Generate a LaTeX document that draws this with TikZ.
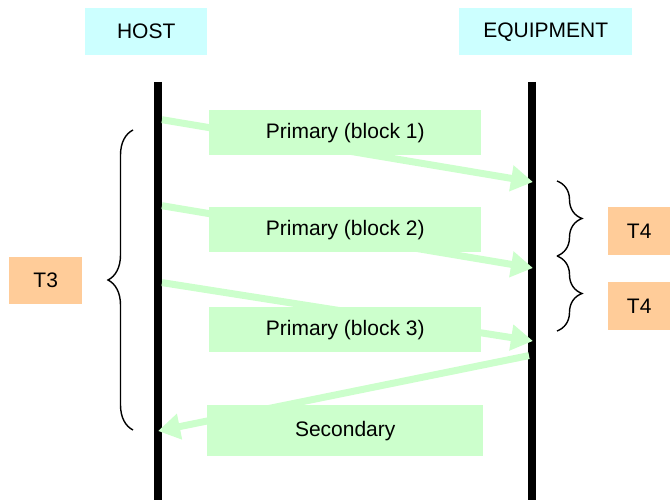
\documentclass[tikz,border=0pt]{standalone}
\usepackage{fontspec}
\setmainfont{Liberation Sans}
\usetikzlibrary{arrows.meta,decorations.pathreplacing}
\definecolor{msggreen}{HTML}{CCFFCC}
\definecolor{headcyan}{HTML}{CCFFFF}
\definecolor{timeorange}{HTML}{FFCC99}
\begin{document}
\begin{tikzpicture}[x=1pt,y=-1pt,
  every node/.style={font=\fontsize{21}{25}\selectfont, inner sep=0pt, anchor=north west},
  headbox/.style={fill=headcyan},
  msgbox/.style={fill=msggreen},
  timebox/.style={fill=timeorange},
  lifeline/.style={line width=8pt},
  msgarrow/.style={draw=msggreen, line width=7pt, -{Triangle[length=22pt,width=25pt]}},
  bracestyle/.style={line width=1.4pt, decorate, decoration={brace, amplitude=25pt}}]
\useasboundingbox (0,0) rectangle (670,500);
% headers
\node[headbox, minimum width=122pt, minimum height=47pt] (host) at (85,8) {HOST};
\node[headbox, minimum width=173pt, minimum height=47pt] (equip) at (459,8) {EQUIPMENT};
% lifelines
\coordinate (ht) at (158,82); \coordinate (hb) at (158,500);
\coordinate (et) at (532,82); \coordinate (eb) at (532,500);
\draw[lifeline] (ht) -- (hb);
\draw[lifeline] (et) -- (eb);
% message endpoints
\coordinate (s1) at (162,119.7); \coordinate (e1) at (533,182);
\coordinate (s2) at (162,205.7); \coordinate (e2) at (533,268);
\coordinate (s3) at (162,282.6); \coordinate (e3) at (533,341);
\coordinate (s4) at (529,355.6); \coordinate (e4) at (158,431);
\draw[msgarrow] (s1) -- (e1);
\draw[msgarrow] (s2) -- (e2);
\draw[msgarrow] (s3) -- (e3);
\draw[msgarrow] (s4) -- (e4);
% message boxes
\node[msgbox, minimum width=272pt, minimum height=45pt] (p1) at (209,110) {Primary (block 1)};
\node[msgbox, minimum width=272pt, minimum height=45pt] (p2) at (209,207) {Primary (block 2)};
\node[msgbox, minimum width=272pt, minimum height=45pt] (p3) at (209,307) {Primary (block 3)};
\node[msgbox, minimum width=276pt, minimum height=51pt] (sec) at (207,405) {Secondary};
% braces
\coordinate (lb1) at (133,430); \coordinate (lb2) at (133,130);
\draw[bracestyle] (lb1) -- (lb2);
\coordinate (rb1) at (557,181); \coordinate (rb2) at (557,256); \coordinate (rb3) at (557,331);
\draw[bracestyle] (rb1) -- (rb2);
\draw[bracestyle] (rb2) -- (rb3);
% timers
\node[timebox, minimum width=73pt, minimum height=47pt] (t3) at (9,257) {T3};
\node[timebox, minimum width=62pt, minimum height=48pt] (t4a) at (608,207) {T4};
\node[timebox, minimum width=62pt, minimum height=48pt] (t4b) at (608,282) {T4};
\end{tikzpicture}
\end{document}
